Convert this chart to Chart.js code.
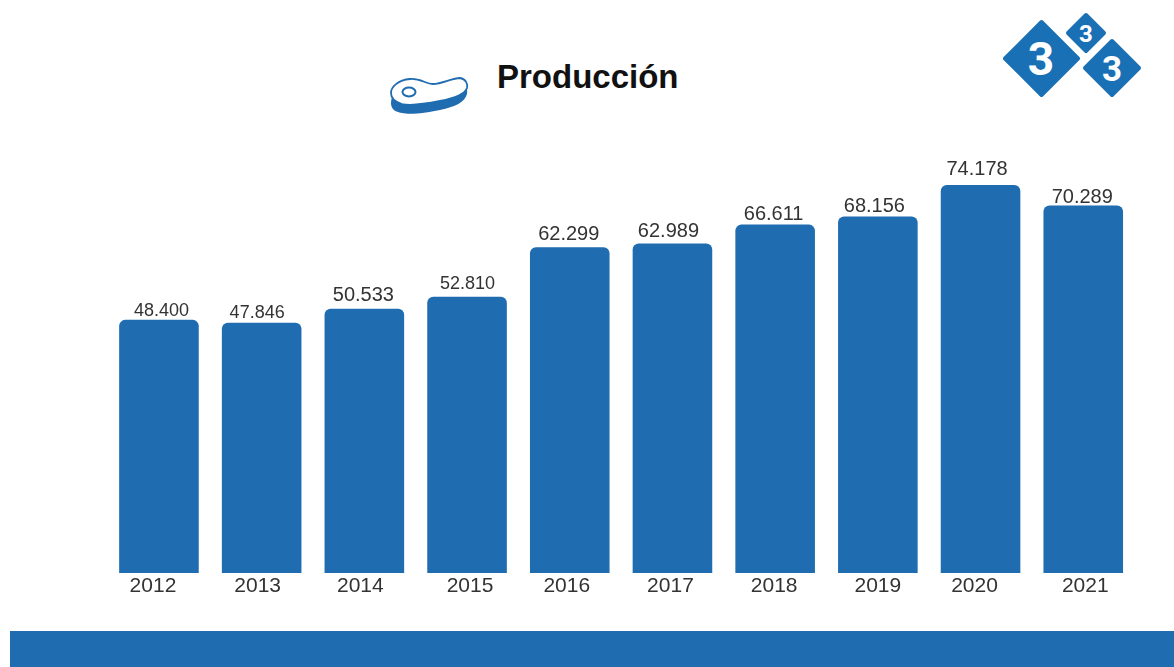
<!DOCTYPE html>
<html lang="es">
<head>
<meta charset="utf-8">
<title>Producción</title>
<script src="https://cdn.jsdelivr.net/npm/chart.js@4/dist/chart.umd.min.js"></script>
<style>
    html, body { margin: 0; padding: 0; background: #fff; overflow: hidden; }
    #page { position: relative; width: 1174px; height: 667px; }
    #prodChart { position: absolute; left: 0; top: 0; }
    #title {
        position: absolute; left: 497px; top: 58px; margin: 0;
        font: bold 33px "Liberation Sans", Arial, sans-serif; color: #111; white-space: nowrap;
    }
    #band { position: absolute; left: 10px; top: 631px; right: 0; bottom: 0; background: #1f6cb0; }
    svg { position: absolute; left: 0; top: 0; }
</style>
</head>
<body>
<div id="page">
    <svg width="1174" height="140" viewBox="0 0 1174 140">
        <!-- meat icon -->
        <path d="M391 98 C391 90 398 80 410 79 C420 78 426 84 433 84 C442 84 452 78 460 78 C466 79 468 84 467 89 C465 97 455 102 440 105 C425 108 410 110 402 108 C395 107 391 104 391 98 Z" fill="#1f6cb0" transform="translate(0 5)"/>
        <path d="M391 93 C391 87 398 80 410 79 C420 78 426 84 433 84 C442 84 452 78 460 78 C466 79 468 84 467 88 C465 94 455 98 440 101 C425 104 410 106 402 104 C395 102 391 99 391 93 Z" fill="#fff" stroke="#1f6cb0" stroke-width="1.8"/>
        <ellipse cx="409" cy="92" rx="6.5" ry="4.5" fill="#fff" stroke="#1f6cb0" stroke-width="2"/>
        <!-- logo -->
        <g fill="#1a70b5" stroke="#1a70b5" stroke-width="4" stroke-linejoin="round">
            <path d="M1041.5 22 L1078 58.5 L1041.5 95 L1005 58.5 Z"/>
            <path d="M1086 15 L1104 33 L1086 51 L1068 33 Z"/>
            <path d="M1112 41 L1139 68 L1112 95 L1085 68 Z"/>
        </g>
        <g fill="#fff" font-family="Roboto, sans-serif" font-weight="bold" text-anchor="middle">
            <text x="1041" y="75" font-size="46">3</text>
            <text x="1086" y="42" font-size="24">3</text>
            <text x="1112" y="81" font-size="35">3</text>
        </g>
    </svg>
    <h1 id="title">Producción</h1>
    <canvas id="prodChart" width="1174" height="631"></canvas>
    <div id="band"></div>
</div>
<script>
const years = ['2012', '2013', '2014', '2015', '2016', '2017', '2018', '2019', '2020', '2021'];
const production = [48400, 47846, 50533, 52810, 62299, 62989, 66611, 68156, 74178, 70289];
const yAxisMax = 80000;

// the original labels are pasted by hand, so they are not all the same size or centred
const valueFontSizes = [18, 18, 20, 18, 20, 20, 20, 20, 20, 20];
const valueNudgeX = [2.5, -4.5, -1, 0.5, -1, -4, -1.5, -3.5, -3.5, -1];
const valueNudgeY = [-1, -2, -4, -5, -4, -3, -1, -1, -7, 1];
const yearNudgeX = [-6, -4, -4, 3, -3, -2, -1, 0, -6, 2];

function fmt(value) {
    return value.toLocaleString('de-DE');
}

const barLabels = {
    id: 'barLabels',
    afterDatasetsDraw(chart) {
        const ctx = chart.ctx;
        const xScale = chart.scales.x;
        const bars = chart.getDatasetMeta(0).data;
        ctx.save();
        ctx.fillStyle = '#333';
        ctx.textAlign = 'center';

        // values above the bars
        ctx.textBaseline = 'bottom';
        bars.forEach((bar, i) => {
            ctx.font = valueFontSizes[i] + 'px "Liberation Sans", Arial, sans-serif';
            ctx.fillText(fmt(production[i]), bar.x + valueNudgeX[i], bar.y + 1 + valueNudgeY[i]);
        });

        // years under the axis
        ctx.textBaseline = 'top';
        ctx.font = '21px "Liberation Sans", Arial, sans-serif';
        years.forEach((year, i) => {
            ctx.fillText(year, xScale.getPixelForValue(i) + yearNudgeX[i], 576);
        });
        ctx.restore();
    }
};

document.addEventListener('DOMContentLoaded', function() {
    const ctx = document.getElementById('prodChart').getContext('2d');
    new Chart(ctx, {
        type: 'bar',
        data: {
            labels: years,
            datasets: [{
                label: 'Producción',
                data: production,
                backgroundColor: '#1f6cb0',
                borderRadius: 6,
                borderSkipped: 'bottom',
                categoryPercentage: 1,
                barPercentage: 0.775
            }]
        },
        options: {
            responsive: false,
            animation: false,
            layout: { padding: { left: 107.6, right: 39.4, top: 154.6, bottom: 58 } },
            plugins: { legend: { display: false }, title: { display: false }, tooltip: { enabled: false } },
            scales: {
                x: { display: false },
                y: { display: false, min: 0, max: yAxisMax }
            }
        },
        plugins: [barLabels]
    });
});
</script>
</body>
</html>
